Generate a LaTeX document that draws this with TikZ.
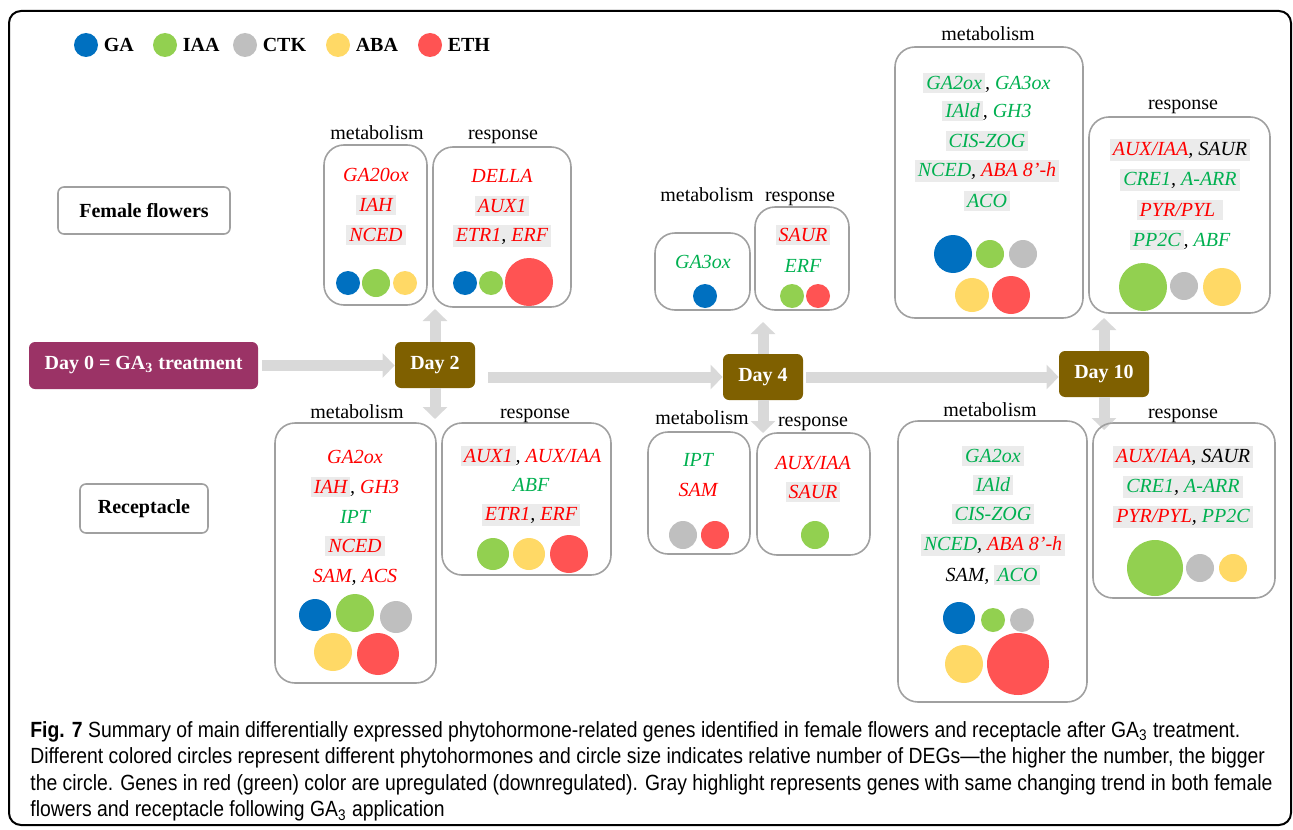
\documentclass[tikz,border=0pt]{standalone}
\usepackage{fontspec}
\setmainfont{Liberation Serif}
\newfontfamily\capfont[FakeStretch=0.88]{Liberation Sans}
\usetikzlibrary{positioning}
\usetikzlibrary{arrows.meta}

\definecolor{gacol}{HTML}{0070C0}
\definecolor{iaacol}{HTML}{92D050}
\definecolor{ctkcol}{HTML}{BFBFBF}
\definecolor{abacol}{HTML}{FFD966}
\definecolor{ethcol}{HTML}{FF5353}
\definecolor{upred}{HTML}{FF0000}
\definecolor{dngreen}{HTML}{00B050}
\definecolor{hlgray}{HTML}{EBEBEB}
\definecolor{boxgray}{HTML}{A0A0A0}
\definecolor{arrowgray}{HTML}{D9D9D9}
\definecolor{daybrown}{HTML}{7F6000}
\definecolor{dayzero}{HTML}{9B3366}

\newcommand{\ured}[1]{\textcolor{upred}{#1}}
\newcommand{\dgreen}[1]{\textcolor{dngreen}{#1}}
\newcommand{\hlg}[1]{{\setlength{\fboxsep}{1.5pt}\colorbox{hlgray}{#1}}}

\tikzset{
  genebox/.style={draw=boxgray, line width=0.8pt, rounded corners=10pt},
  sidebox/.style={draw=boxgray, line width=0.8pt, rounded corners=3pt, font=\bfseries, inner sep=0pt},
  gene/.style={font=\itshape, inner sep=0pt},
  lbl/.style={inner sep=0pt, anchor=base},
  daybox/.style={fill=daybrown, rounded corners=3pt, text=white, font=\bfseries, minimum height=23pt, inner sep=0pt},
  garrow/.style={draw=arrowgray, line width=5.5pt, -{Triangle[width=12pt,length=6pt]}},
  lcirc/.style={circle, minimum size=12pt, inner sep=0pt},
  ltext/.style={font=\bfseries, inner sep=0pt, right=2.5pt of #1}
}

\begin{document}
\begin{tikzpicture}[x=0.5pt,y=-0.5pt]
\useasboundingbox (0,0) rectangle (1293,829);
\draw[black, line width=1pt, rounded corners=6pt] (9,11) rectangle (1291,825);

% legend
\node[lcirc,fill=gacol] (lga) at (86,45) {};
\node[ltext=lga] (tga) {GA};
\node[lcirc,fill=iaacol] (liaa) at (165,45) {};
\node[ltext=liaa] (tiaa) {IAA};
\node[lcirc,fill=ctkcol] (lctk) at (245,45) {};
\node[ltext=lctk] (tctk) {CTK};
\node[lcirc,fill=abacol] (laba) at (338,45) {};
\node[ltext=laba] (taba) {ABA};
\node[lcirc,fill=ethcol] (leth) at (430,45) {};
\node[ltext=leth] (teth) {ETH};

% tissues
\node[sidebox,minimum width=86pt,minimum height=23.5pt] (ff) at (144,210.5) {Female flowers};
\node[sidebox,minimum width=64pt,minimum height=24.5pt] (rc) at (144,508.5) {Receptacle};

% time line
\node[daybox,fill=dayzero,minimum width=114.5pt,minimum height=23.5pt] (d0) at (143.5,365.5) {Day 0 = GA\textsubscript{3} treatment};
\node[daybox,minimum width=40pt] (d2) at (435,365) {Day 2};
\node[daybox,minimum width=40pt] (d4) at (763,377) {Day 4};
\node[daybox,minimum width=45pt] (d10) at (1104,374) {Day 10};

\coordinate (j0) at (262,365.5);
\coordinate (j2) at (488,377);
\coordinate (j4) at (806,377);
\draw[garrow] (j0) -- (j0 -| d2.west);
\draw[garrow] (j2) -- (d4.west);
\draw[garrow] (j4) -- (j4 -| d10.west);

\coordinate (u2) at (436,309);
\coordinate (b2) at (436,419);
\coordinate (u4) at (762,322);
\coordinate (b4) at (762,433);
\coordinate (u10) at (1101,318);
\coordinate (b10) at (1101,430);
\draw[garrow] (d2.north) -- (d2.north |- u2);
\draw[garrow] (d2.south) -- (d2.south |- b2);
\draw[garrow] (d4.north) -- (d4.north |- u4);
\draw[garrow] (d4.south) -- (d4.south |- b4);
\draw[garrow] (d10.north) -- (d10.north |- u10);
\draw[garrow] (d10.south) -- (d10.south |- b10);

% female flowers, day 2
\draw[genebox] (324,145) rectangle (427,305);
\node[lbl] (fm2) at (377,139) {metabolism};
\node[gene] (fm2a) at (376,175) {\ured{GA20ox}};
\node[gene] (fm2b) at (376,205) {\hlg{\ured{IAH}}};
\node[gene] (fm2c) at (376,235) {\hlg{\ured{NCED}}};
\fill[gacol] (348,283) circle (6pt);
\fill[iaacol] (376,283) circle (7pt);
\fill[abacol] (405,283) circle (6pt);

\draw[genebox] (433,147) rectangle (571,307);
\node[lbl] (fr2) at (503,139) {response};
\node[gene] (fr2a) at (502,176) {\ured{DELLA}};
\node[gene] (fr2b) at (502,206) {\hlg{\ured{AUX1}}};
\node[gene] (fr2c) at (502,236) {\hlg{\ured{ETR1}, \ured{ERF}}};
\fill[gacol] (465,283) circle (6pt);
\fill[iaacol] (491,283) circle (6pt);
\fill[ethcol] (529,282) circle (12pt);

% female flowers, day 4
\draw[genebox] (655,233) rectangle (750,310);
\node[lbl] (fm4) at (707,201) {metabolism};
\node[gene] (fm4a) at (703,262) {\dgreen{GA3ox}};
\fill[gacol] (705,296) circle (6pt);

\draw[genebox] (755,207) rectangle (849,310);
\node[lbl] (fr4) at (800,201) {response};
\node[gene] (fr4a) at (803,235) {\hlg{\ured{SAUR}}};
\node[gene] (fr4b) at (803,266) {\dgreen{ERF}};
\fill[iaacol] (792,296) circle (6pt);
\fill[ethcol] (818,296) circle (6pt);

% female flowers, day 10
\draw[genebox] (895,47) rectangle (1083,318);
\node[lbl] (fm10) at (988,41) {metabolism};
\node[gene] (fm10a) at (987,83) {\hlg{\dgreen{GA2ox}}, \dgreen{GA3ox}};
\node[gene] (fm10b) at (987,111) {\hlg{\dgreen{IAld}}, \dgreen{GH3}};
\node[gene] (fm10c) at (987,141) {\hlg{\dgreen{CIS-ZOG}}};
\node[gene] (fm10d) at (987,171) {\hlg{\dgreen{NCED}, \ured{ABA 8’-h}}};
\node[gene] (fm10e) at (987,201) {\hlg{\dgreen{ACO}}};
\fill[gacol] (953,254) circle (9.5pt);
\fill[iaacol] (990,254) circle (7pt);
\fill[ctkcol] (1023,254) circle (7pt);
\fill[abacol] (972,295) circle (8.5pt);
\fill[ethcol] (1011,295) circle (9.5pt);

\draw[genebox] (1089,117) rectangle (1270,313);
\node[lbl] (fr10) at (1183,109) {response};
\node[gene] (fr10a) at (1180,150) {\hlg{\ured{AUX/IAA}, SAUR}};
\node[gene] (fr10b) at (1180,180) {\hlg{\dgreen{CRE1}, \dgreen{A-ARR}}};
\node[gene] (fr10c) at (1180,210) {\hlg{\ured{PYR/PYL}\ }};
\node[gene] (fr10d) at (1180,240) {\hlg{\dgreen{PP2C}}, \dgreen{ABF}};
\fill[iaacol] (1143,287) circle (12pt);
\fill[ctkcol] (1184,286) circle (7pt);
\fill[abacol] (1222,287) circle (9.5pt);

% receptacle, day 2
\draw[genebox] (275,423) rectangle (436,683);
\node[lbl] (rm2) at (357,418) {metabolism};
\node[gene] (rm2a) at (355,457) {\ured{GA2ox}};
\node[gene] (rm2b) at (355,487) {\hlg{\ured{IAH}}, \ured{GH3}};
\node[gene] (rm2c) at (355,517) {\dgreen{IPT}};
\node[gene] (rm2d) at (355,546) {\hlg{\ured{NCED}}};
\node[gene] (rm2e) at (355,577) {\ured{SAM}, \ured{ACS}};
\fill[gacol] (315,615) circle (8pt);
\fill[iaacol] (355,613) circle (9.5pt);
\fill[ctkcol] (396,617) circle (8pt);
\fill[abacol] (333,652) circle (9.5pt);
\fill[ethcol] (378,654) circle (10.5pt);

\draw[genebox] (442,423) rectangle (611,575);
\node[lbl] (rr2) at (535,418) {response};
\node[gene] (rr2a) at (531,456) {\hlg{\ured{AUX1}}, \ured{AUX/IAA}};
\node[gene] (rr2b) at (531,485) {\dgreen{ABF}};
\node[gene] (rr2c) at (531,515) {\hlg{\ured{ETR1}, \ured{ERF}}};
\fill[iaacol] (493,554) circle (8pt);
\fill[abacol] (529,554) circle (8pt);
\fill[ethcol] (569,554) circle (9.5pt);

% receptacle, day 4
\draw[genebox] (648,432) rectangle (750,554);
\node[lbl] (rm4) at (702,424) {metabolism};
\node[gene] (rm4a) at (698,460) {\dgreen{IPT}};
\node[gene] (rm4b) at (698,490) {\ured{SAM}};
\fill[ctkcol] (683,535) circle (7pt);
\fill[ethcol] (715,535) circle (7pt);

\draw[genebox] (757,433) rectangle (870,555);
\node[lbl] (rr4) at (813,426) {response};
\node[gene] (rr4a) at (813,463) {\ured{AUX/IAA}};
\node[gene] (rr4b) at (813,492) {\hlg{\ured{SAUR}}};
\fill[iaacol] (815,535) circle (7pt);

% receptacle, day 10
\draw[genebox] (898,421) rectangle (1087,702);
\node[lbl] (rm10) at (990,416) {metabolism};
\node[gene] (rm10a) at (993,456) {\hlg{\dgreen{GA2ox}}};
\node[gene] (rm10b) at (993,485) {\hlg{\dgreen{IAld}}};
\node[gene] (rm10c) at (993,514) {\hlg{\dgreen{CIS-ZOG}}};
\node[gene] (rm10d) at (993,545) {\hlg{\dgreen{NCED}, \ured{ABA 8’-h}}};
\node[gene] (rm10e) at (993,575) {SAM, \hlg{\dgreen{ACO}}};
\fill[gacol] (959,618) circle (8pt);
\fill[iaacol] (993,620) circle (6pt);
\fill[ctkcol] (1022,620) circle (6pt);
\fill[abacol] (964,664) circle (9.5pt);
\fill[ethcol] (1018,664) circle (15.5pt);

\draw[genebox] (1093,423) rectangle (1275,598);
\node[lbl] (rr10) at (1183,418) {response};
\node[gene] (rr10a) at (1183,457) {\hlg{\ured{AUX/IAA}, SAUR}};
\node[gene] (rr10b) at (1183,487) {\hlg{\dgreen{CRE1}, \dgreen{A-ARR}}};
\node[gene] (rr10c) at (1183,517) {\hlg{\ured{PYR/PYL}, \dgreen{PP2C}}};
\fill[iaacol] (1155,568) circle (14pt);
\fill[ctkcol] (1200,568) circle (7pt);
\fill[abacol] (1233,568) circle (7pt);

% caption
\node[anchor=north west, inner sep=0pt, align=left, font=\capfont\fontsize{11}{13.25}\selectfont] (cap) at (30,721)
{\textbf{Fig. 7} Summary of main differentially expressed phytohormone-related genes identified in female flowers and receptacle after GA\textsubscript{3} treatment.\\
Different colored circles represent different phytohormones and circle size indicates relative number of DEGs—the higher the number, the bigger\\
the circle. Genes in red (green) color are upregulated (downregulated). Gray highlight represents genes with same changing trend in both female\\
flowers and receptacle following GA\textsubscript{3} application};

\end{tikzpicture}
\end{document}
